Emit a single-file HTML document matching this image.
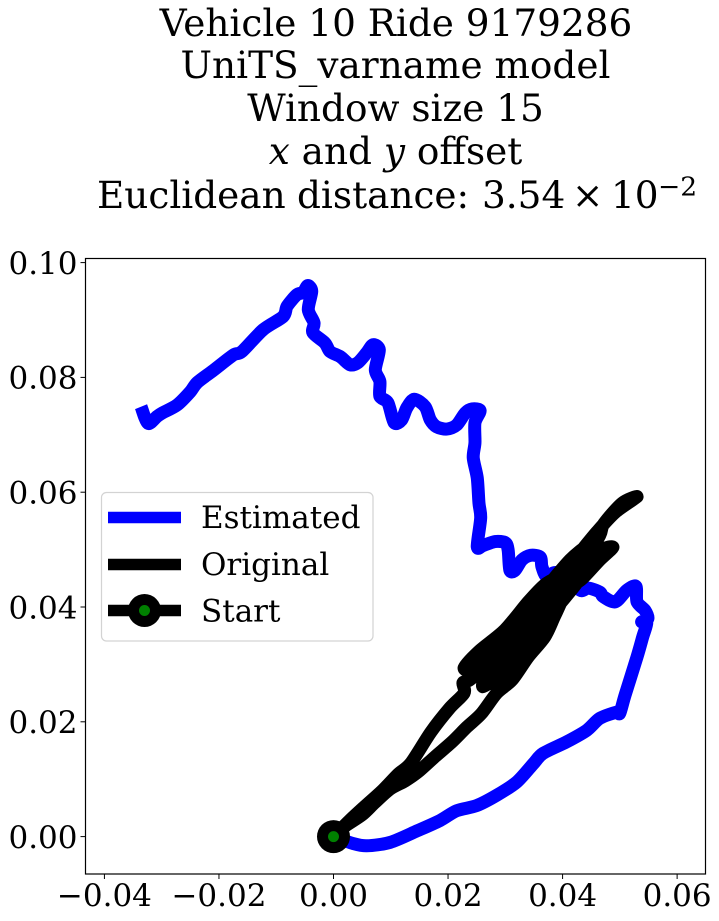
<!DOCTYPE html>
<html>
<head>
<meta charset="utf-8">
<style>
html,body{margin:0;padding:0;background:#fff;}
svg{display:block;font-family:"DejaVu Serif","Liberation Serif",serif;}
</style>
</head>
<body>
<svg id="chart" xmlns="http://www.w3.org/2000/svg" width="719" height="921" viewBox="0 0 719 921">
  <g font-size="37.4" text-anchor="middle" fill="#000">
    <text x="396" y="36">Vehicle 10 Ride 9179286</text>
    <text x="395.5" y="78">UniTS_varname model</text>
    <text x="395.5" y="121">Window size 15</text>
    <text x="395.5" y="164"><tspan font-style="italic">x</tspan> and <tspan font-style="italic">y</tspan> offset</text>
    <text text-anchor="start" y="208"><tspan x="97">Euclidean</tspan> <tspan x="297">distance:</tspan> <tspan x="482">3.54</tspan> <tspan x="572">×</tspan> <tspan x="611">10</tspan><tspan x="658" font-size="26.5" dy="-12.5">−2</tspan></text>
  </g>
  <g id="plot"></g>
  <rect x="85.5" y="258.5" width="620" height="615.5" fill="none" stroke="#000" stroke-width="1.2"/>
  <g id="ticks"></g>
  <g>
    <rect x="101.5" y="492.5" width="271.5" height="148.5" rx="5" ry="5" fill="#fff" fill-opacity="0.8" stroke="#d3d3d3" stroke-width="1.2"/>
    <g>
      <line x1="108" x2="181" y1="517.5" y2="517.5" stroke="#0000ff" stroke-width="11.5"/>
      <text x="201" y="528" font-size="31">Estimated</text>
    </g>
    <g>
      <line x1="108" x2="181" y1="564.5" y2="564.5" stroke="#000" stroke-width="11.5"/>
      <text x="201" y="575" font-size="31">Original</text>
    </g>
    <g>
      <line x1="108" x2="181" y1="610.5" y2="610.5" stroke="#000" stroke-width="11.5"/>
      <circle cx="144.5" cy="610.5" r="16.5" fill="#000"/>
      <circle cx="144.5" cy="610.5" r="5.5" fill="#008000"/>
      <text x="201" y="621.5" font-size="31">Start</text>
    </g>
  </g>
</svg>
<script>
var xTickValues = [-0.04, -0.02, 0.00, 0.02, 0.04, 0.06];
var yTickValues = [0.00, 0.02, 0.04, 0.06, 0.08, 0.10];
var xTickLabels = ["\u22120.04", "\u22120.02", "0.00", "0.02", "0.04", "0.06"];
var yTickLabels = ["0.00", "0.02", "0.04", "0.06", "0.08", "0.10"];
var estimatedX = [0,.0034,.0058,.0099,.0146,.0186,.0215,.0250,.0285,.0320,.0349,.0366,.0407,.0442,.0465,.0495,.0500,.0509,.0530,.0540,.0547,.0538,.0549,.0544,.0530,.0528,.0512,.0492,.0471,.0465,.0445,.0431,.0413,.0387,.0372,.0364,.0361,.0344,.0329,.0317,.0308,.0305,.0300,.0282,.0261,.0251,.0257,.0254,.0251,.0244,.0247,.0247,.0256,.0242,.0230,.0215,.0198,.0180,.0169,.0160,.0141,.0128,.0119,.0106,.0095,.0081,.0081,.0073,.0080,.0069,.0058,.0043,.0029,.0012,-.0006,-.0015,-.0036,-.0034,-.0044,-.0038,-.0045,-.0053,-.0064,-.0081,-.0088,-.0123,-.0160,-.0175,-.0210,-.0238,-.0250,-.0273,-.0299,-.0308,-.0324,-.0336];
var estimatedY = [0,-.0012,-.0016,-.0010,.0010,.0028,.0045,.0054,.0072,.0095,.0127,.0145,.0165,.0185,.0206,.0217,.0215,.0246,.0313,.0348,.0372,.0374,.0380,.0394,.0409,.0436,.0429,.0409,.0418,.0426,.0433,.0429,.0452,.0460,.0453,.0470,.0487,.0490,.0482,.0464,.0464,.0499,.0512,.0514,.0507,.0505,.0555,.0581,.0625,.0660,.0686,.0721,.0742,.0745,.0738,.0717,.0710,.0714,.0726,.0749,.0762,.0747,.0726,.0721,.0756,.0767,.0793,.0813,.0848,.0857,.0843,.0826,.0822,.0836,.0845,.0860,.0878,.0895,.0918,.0950,.0960,.0948,.0944,.0924,.0906,.0883,.0845,.0839,.0812,.0791,.0775,.0752,.0738,.0732,.0720,.0749];
var originalX = [0,.0020,.0050,.0072,.0099,.0125,.0148,.0177,.0207,.0233,.0258,.0285,.0312,.0340,.0369,.0387,.0409,.0434,.0465,.0488,.0465,.0422,.0387,.0361,.0326,.0291,.0261,.0270,.0308,.0347,.0375,.0409,.0439,.0465,.0472,.0504,.0530,.0492,.0460,.0422,.0387,.0355,.0326,.0285,.0249,.0228,.0254,.0299,.0340,.0369,.0404,.0439,.0413,.0369,.0343,.0308,.0273,.0238,.0226,.0228,.0203,.0170,.0135,.0113,.0086,.0055,.0029,0];
var originalY = [0,.0018,.0038,.0059,.0083,.0097,.0113,.0139,.0165,.0191,.0214,.0250,.0273,.0313,.0348,.0386,.0430,.0449,.0482,.0504,.0496,.0438,.0395,.0357,.0316,.0282,.0261,.0287,.0325,.0369,.0403,.0444,.0482,.0525,.0545,.0581,.0592,.0565,.0531,.0485,.0444,.0417,.0383,.0334,.0290,.0294,.0323,.0360,.0409,.0439,.0461,.0503,.0482,.0430,.0395,.0343,.0304,.0273,.0268,.0250,.0224,.0182,.0128,.0109,.0081,.0053,.0029,0];
var startX = [0];
var startY = [0];

var NS = "http://www.w3.org/2000/svg";
function xScale(v) { return 333.5 + 5727 * v; }
function yScale(v) { return 836.6 - 5740 * v; }
function pathFrom(xs, ys) {
  var px = xs.map(xScale);
  var py = ys.map(yScale);
  var k = 1 / 7;
  var d = "M" + px[0].toFixed(2) + " " + py[0].toFixed(2);
  for (var i = 0; i < px.length - 1; i++) {
    var a = Math.max(i - 1, 0);
    var b = Math.min(i + 2, px.length - 1);
    var c1x = px[i] + (px[i + 1] - px[a]) * k;
    var c1y = py[i] + (py[i + 1] - py[a]) * k;
    var c2x = px[i + 1] - (px[b] - px[i]) * k;
    var c2y = py[i + 1] - (py[b] - py[i]) * k;
    d += "C" + c1x.toFixed(2) + " " + c1y.toFixed(2) + " " + c2x.toFixed(2) + " " + c2y.toFixed(2) + " " + px[i + 1].toFixed(2) + " " + py[i + 1].toFixed(2);
  }
  return d;
}
var plot = document.getElementById("plot");
var ticks = document.getElementById("ticks");

var estPath = document.createElementNS(NS, "path");


estPath.setAttribute("d", pathFrom(estimatedX, estimatedY));
estPath.setAttribute("fill", "none");
estPath.setAttribute("stroke", "#0000ff");
estPath.setAttribute("stroke-width", "13");
estPath.setAttribute("stroke-linejoin", "round");
plot.appendChild(estPath);

var origPath = document.createElementNS(NS, "path");


origPath.setAttribute("d", pathFrom(originalX, originalY));
origPath.setAttribute("fill", "none");
origPath.setAttribute("stroke", "#000");
origPath.setAttribute("stroke-width", "13");
origPath.setAttribute("stroke-linejoin", "round");
origPath.setAttribute("stroke-linecap", "round");
plot.appendChild(origPath);

var startOuter = document.createElementNS(NS, "circle");


startOuter.setAttribute("cx", xScale(startX[0]));
startOuter.setAttribute("cy", yScale(startY[0]));
startOuter.setAttribute("r", "16.5");
startOuter.setAttribute("fill", "#000");
plot.appendChild(startOuter);

var startInner = document.createElementNS(NS, "circle");


startInner.setAttribute("cx", xScale(startX[0]));
startInner.setAttribute("cy", yScale(startY[0]));
startInner.setAttribute("r", "5.5");
startInner.setAttribute("fill", "#008000");
plot.appendChild(startInner);

xTickValues.forEach(function (v, i) {
  var px = xScale(v);
  var tick = document.createElementNS(NS, "line");
  
  
  tick.setAttribute("x1", px);
  tick.setAttribute("x2", px);
  tick.setAttribute("y1", 874);
  tick.setAttribute("y2", 879);
  tick.setAttribute("stroke", "#000");
  tick.setAttribute("stroke-width", "1");
  ticks.appendChild(tick);
  var label = document.createElementNS(NS, "text");
  
  
  label.setAttribute("x", px);
  label.setAttribute("y", 906);
  label.setAttribute("font-size", "31");
  label.setAttribute("text-anchor", "middle");
  label.textContent = xTickLabels[i];
  ticks.appendChild(label);
});

yTickValues.forEach(function (v, i) {
  var py = yScale(v);
  var tick = document.createElementNS(NS, "line");
  
  
  tick.setAttribute("x1", 80.5);
  tick.setAttribute("x2", 85.5);
  tick.setAttribute("y1", py);
  tick.setAttribute("y2", py);
  tick.setAttribute("stroke", "#000");
  tick.setAttribute("stroke-width", "1");
  ticks.appendChild(tick);
  var label = document.createElementNS(NS, "text");
  
  
  label.setAttribute("x", 77.5);
  label.setAttribute("y", py + 11.3);
  label.setAttribute("font-size", "31");
  label.setAttribute("text-anchor", "end");
  label.textContent = yTickLabels[i];
  ticks.appendChild(label);
});
</script>
</body>
</html>
